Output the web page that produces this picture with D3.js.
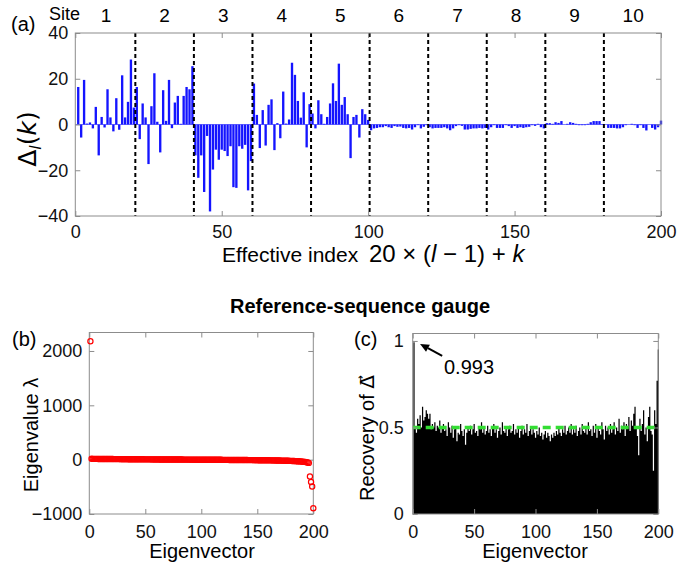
<!DOCTYPE html>
<html><head><meta charset="utf-8">
<script src="https://cdn.jsdelivr.net/npm/d3@7"></script>
<style>body{margin:0;background:#fff;} svg{display:block;}</style>
</head><body>
<svg id="chart" width="677" height="567"></svg>
<script>
// ---------------- data ----------------
const siteLabels = ["1","2","3","4","5","6","7","8","9","10"];
const xTicksIndex = [0, 50, 100, 150, 200];
const yTicksDelta = [-40, -20, 0, 20, 40];
const yTicksEigen = [-1000, 0, 1000, 2000];
const yTicksRecovery = [0, 0.5, 1];

// Delta_l(k), effective index 1..200
const deltaValues = [
  16.4, -5.7, 19.5, 0.4, 0.9, -1.7, 7.7, -13.5, 3.3, -1.3, 15.4, 3.1, -3.0, 11.5, -2.3, 21.5, 3.1, 9.9, 28.4, 7.4,
  16.4, -6.4, 9.2, 3.1, -17.3, 8.0, 22.4, 1.2, -12.2, 15.0, 1.6, 19.5, -1.6, 9.6, 12.5, 0.3, 12.5, 16.4, 15.4, 25.5,
  -13.5, -23.3, -13.5, -29.5, -5.0, -38.0, -19.7, -11.0, -15.4, -11.0, -11.6, -13.8, -9.5, -27.4, -27.7, -9.5, -10.6, -8.9, -28.8, -16.0,
  17.9, 4.2, -10.3, 6.3, -9.2, 8.6, 11.0, -11.2, 0.6, -6.0, 14.4, 0.4, 2.2, 27.0, 21.7, 10.3, 3.0, 14.1, -10.0, 8.9,
  4.8, -1.7, 10.6, 4.5, 0.3, 3.3, 9.2, 18.0, 10.3, 26.6, 8.6, 12.0, 4.5, -14.7, 3.3, 4.2, -5.7, 6.7, 4.5, 2.0,
  -2.5, -1.7, -1.5, -1.2, -1.2, -0.7, -1.2, -1.5, -0.7, -1.0, -0.9, -1.5, -1.7, -1.5, -2.2, -1.2, -0.3, -1.7, -1.0, -0.3,
  -1.2, -1.7, -1.5, -1.5, -1.5, -1.2, -1.7, -2.5, -1.7, -0.7, -0.3, -0.6, -2.2, -2.2, -1.9, -1.7, -1.7, -1.5, -1.7, -1.5,
  -2.2, -1.2, -0.3, -1.5, -1.5, -1.5, -0.3, -0.7, -1.5, -0.7, -1.5, -1.2, -1.5, -1.2, -1.0, -0.3, -0.6, 0.3, -1.2, -1.7,
  0.6, 0.6, 0.3, 1.0, 0.7, 1.5, 0.0, 0.3, 1.0, 0.7, 0.3, -0.3, -0.3, -0.3, 0.3, 1.0, 1.5, 1.5, 1.5, 0.2,
  0.0, -1.5, -1.5, -1.5, -1.7, -1.7, -1.2, -0.3, 0.0, 0.3, -0.3, -1.5, -0.3, -1.5, -2.6, 0.0, -1.5, -2.2, -1.2, 1.7
];

// Eigenvalues, eigenvector 1..200
const eigenValues = [
  2180,
  16, 15, 15, 14, 14, 14, 13, 13, 13, 13, 12, 12, 12, 12, 12, 11, 11, 11, 11, 11,
  10, 10, 10, 10, 10, 10, 9, 9, 9, 9, 9, 9, 9, 8, 8, 8, 8, 8, 8, 8,
  7, 7, 7, 7, 7, 7, 7, 6, 6, 6, 6, 6, 6, 6, 5, 5, 5, 5, 5, 5,
  5, 4, 4, 4, 4, 4, 4, 4, 3, 3, 3, 3, 3, 3, 3, 2, 2, 2, 2, 2,
  2, 2, 1, 1, 1, 1, 1, 1, 1, 0, 0, 0, 0, 0, 0, 0, -1, -1, -1, -1,
  -1, -1, -1, -2, -2, -2, -2, -2, -2, -2, -3, -3, -3, -3, -3, -3, -3, -4, -4, -4,
  -4, -4, -4, -5, -5, -5, -5, -5, -5, -6, -6, -6, -6, -6, -6, -7, -7, -7, -7, -7,
  -8, -8, -8, -8, -8, -9, -9, -9, -9, -10, -10, -10, -10, -11, -11, -11, -12, -12, -12, -13,
  -13, -13, -14, -14, -14, -15, -15, -16, -16, -17, -17, -18, -18, -19, -19, -20, -21, -22, -23, -24,
  -25, -26, -27, -28, -29, -30, -32, -34, -36, -38, -41, -44, -48, -53, -60,
  -310, -410, -495, -895
];

// Recovery of Delta, eigenvector 1..200
const recoveryValues = [
  0.993, 0.50, 0.47, 0.55, 0.52, 0.57, 0.50, 0.62, 0.54, 0.56, 0.60, 0.58, 0.55, 0.58, 0.49, 0.52, 0.50, 0.53, 0.48, 0.51,
  0.50, 0.54, 0.47, 0.50, 0.52, 0.48, 0.49, 0.45, 0.53, 0.50, 0.47, 0.51, 0.44, 0.49, 0.50, 0.42, 0.47, 0.46, 0.52, 0.48,
  0.45, 0.49, 0.40, 0.47, 0.50, 0.48, 0.51, 0.46, 0.49, 0.52, 0.47, 0.48, 0.45, 0.50, 0.49, 0.53, 0.47, 0.50, 0.46, 0.48,
  0.51, 0.47, 0.49, 0.45, 0.50, 0.52, 0.47, 0.49, 0.44, 0.48, 0.50, 0.46, 0.53, 0.48, 0.47, 0.50, 0.45, 0.49, 0.51, 0.47,
  0.48, 0.52, 0.46, 0.49, 0.47, 0.50, 0.44, 0.48, 0.51, 0.46, 0.49, 0.47, 0.52, 0.45, 0.48, 0.50, 0.46, 0.49, 0.47, 0.44,
  0.48, 0.46, 0.50, 0.45, 0.47, 0.43, 0.46, 0.48, 0.44, 0.47, 0.45, 0.42, 0.46, 0.44, 0.47, 0.45, 0.48, 0.46, 0.50, 0.47,
  0.45, 0.49, 0.47, 0.51, 0.46, 0.48, 0.50, 0.47, 0.52, 0.46, 0.49, 0.47, 0.51, 0.45, 0.48, 0.50, 0.46, 0.52, 0.48, 0.47,
  0.50, 0.46, 0.53, 0.48, 0.49, 0.45, 0.51, 0.47, 0.52, 0.44, 0.50, 0.48, 0.46, 0.53, 0.49, 0.43, 0.51, 0.48, 0.50, 0.46,
  0.52, 0.47, 0.49, 0.53, 0.46, 0.50, 0.48, 0.55, 0.47, 0.51, 0.49, 0.53, 0.45, 0.52, 0.50, 0.56, 0.48, 0.54, 0.51, 0.58,
  0.62, 0.50, 0.45, 0.34, 0.55, 0.48, 0.52, 0.60, 0.46, 0.50, 0.42, 0.56, 0.62, 0.48, 0.46, 0.25, 0.60, 0.52, 0.77, 0.95
];
const recoveryThreshold = 0.5;
const peakLabel = "0.993";

// ---------------- drawing ----------------
const svg = d3.select("#chart");
const FONT = "'Liberation Sans', Arial, Helvetica, sans-serif";
const BOX = "#8c8c8c";

function drawAxes(g, x, y, xt, yt, yfmt, xPad, yPad, fs) {
  const [x0, x1] = x.range();
  const [yb, yt0] = y.range();
  const style = sel => {
    sel.select(".domain").remove();
    sel.selectAll(".tick line").attr("stroke", BOX).attr("stroke-width", 1);
    sel.selectAll(".tick text").attr("fill", "#111").attr("font-family", FONT).attr("font-size", fs);
    sel.attr("font-family", FONT);
  };
  g.append("g").attr("transform", `translate(0,${yb})`)
    .call(d3.axisBottom(x).tickValues(xt).tickSizeInner(-5).tickSizeOuter(0).tickPadding(xPad)).call(style);
  g.append("g").attr("transform", `translate(0,${yt0})`)
    .call(d3.axisTop(x).tickValues(xt).tickSizeInner(-5).tickSizeOuter(0).tickFormat("")).call(style);
  g.append("g").attr("transform", `translate(${x0},0)`)
    .call(d3.axisLeft(y).tickValues(yt).tickSizeInner(-5).tickSizeOuter(0).tickPadding(yPad).tickFormat(yfmt)).call(style);
  g.append("g").attr("transform", `translate(${x1},0)`)
    .call(d3.axisRight(y).tickValues(yt).tickSizeInner(-5).tickSizeOuter(0).tickFormat("")).call(style);
  g.append("rect").attr("x", x0).attr("y", yt0).attr("width", x1 - x0).attr("height", yb - yt0)
    .attr("fill", "none").attr("stroke", BOX).attr("stroke-width", 1);
}

// ----- panel (a) -----
const gA = svg.append("g");
const xA = d3.scaleLinear().domain([0, 200]).range([75.3, 661]);
const yA = d3.scaleLinear().domain([-40, 40]).range([216, 33]);
const bwA = xA(0.8) - xA(0);

gA.append("line").attr("x1", xA(0)).attr("x2", xA(200)).attr("y1", yA(0)).attr("y2", yA(0))
  .attr("stroke", "#8080ff").attr("stroke-width", 1);
gA.selectAll("rect.bar").data(deltaValues).join("rect").attr("class", "bar")
  .attr("x", (d, i) => xA(i + 1) - bwA / 2)
  .attr("width", bwA)
  .attr("y", d => Math.min(yA(d), yA(0)))
  .attr("height", d => Math.abs(yA(d) - yA(0)))
  .attr("fill", "#1414ff");

// site separators
const separators = d3.range(1, siteLabels.length).map(k => 20 * k + 0.5);
gA.selectAll("line.sep").data(separators).join("line").attr("class", "sep")
  .attr("x1", d => xA(d)).attr("x2", d => xA(d)).attr("y1", yA(40)).attr("y2", yA(-40))
  .attr("stroke", "#000").attr("stroke-width", 2).attr("stroke-dasharray", "4,3");

drawAxes(gA, xA, yA, xTicksIndex, yTicksDelta, d3.format("d"), 9, 7, "18px");

gA.selectAll("text.site").data(siteLabels).join("text").attr("class", "site")
  .attr("x", (d, i) => xA(20 * i + 10.5)).attr("y", 22)
  .attr("text-anchor", "middle").attr("font-family", FONT).attr("font-size", "19px").attr("fill", "#000")
  .text(d => d);
gA.append("text").attr("x", 80).attr("y", 20).attr("text-anchor", "end")
  .attr("font-family", FONT).attr("font-size", "18px").text("Site");
gA.append("text").attr("x", 11).attr("y", 31).attr("font-family", FONT).attr("font-size", "20px").text("(a)");

// y label Δ_l(k)
const ylA = gA.append("text").attr("transform", "translate(36,139) rotate(-90)")
  .attr("text-anchor", "middle").attr("font-family", "'DejaVu Sans', sans-serif").attr("font-size", "25px")
  .attr("fill", "#000");
ylA.append("tspan").text("Δ");
ylA.append("tspan").attr("font-style", "italic").attr("font-size", "16px").attr("dy", 5).text("l");
ylA.append("tspan").attr("dy", -5).text("(");
ylA.append("tspan").attr("font-style", "italic").text("k");
ylA.append("tspan").text(")");

// x label
gA.append("text").attr("x", 222).attr("y", 262).attr("font-family", FONT).attr("font-size", "21px")
  .text("Effective index");
const xlA = gA.append("text").attr("x", 369).attr("y", 262).attr("font-family", FONT).attr("font-size", "24px");
xlA.append("tspan").text("20 × (");
xlA.append("tspan").attr("font-style", "italic").text("l");
xlA.append("tspan").text(" − 1) + ");
xlA.append("tspan").attr("font-style", "italic").text("k");

// title
svg.append("text").attr("x", 360).attr("y", 313).attr("text-anchor", "middle")
  .attr("font-family", FONT).attr("font-size", "20px").attr("font-weight", "bold")
  .text("Reference-sequence gauge");

// ----- panel (b) -----
const gB = svg.append("g");
const xB = d3.scaleLinear().domain([0, 200]).range([89.3, 313.3]);
const yB = d3.scaleLinear().domain([-1000, 2340]).range([514, 332.5]);
drawAxes(gB, xB, yB, xTicksIndex, yTicksEigen, d3.format("d"), 11, 7, "18px");
gB.selectAll("circle.eig").data(eigenValues).join("circle").attr("class", "eig")
  .attr("cx", (d, i) => xB(i + 1)).attr("cy", d => yB(d)).attr("r", 2.6)
  .attr("fill", "none").attr("stroke", "#ff0000").attr("stroke-width", 1.2);
gB.append("text").attr("x", 12).attr("y", 346).attr("font-family", FONT).attr("font-size", "20px").text("(b)");
gB.append("text").attr("transform", "translate(38,435) rotate(-90)").attr("text-anchor", "middle")
  .attr("font-family", FONT).attr("font-size", "20px").text("Eigenvalue λ");
gB.append("text").attr("x", 202).attr("y", 558).attr("text-anchor", "middle")
  .attr("font-family", FONT).attr("font-size", "20px").text("Eigenvector");

// ----- panel (c) -----
const gC = svg.append("g");
const xC = d3.scaleLinear().domain([0, 200]).range([412.7, 658.3]);
const yC = d3.scaleLinear().domain([0, 1.043]).range([514, 333.5]);
// bars drawn as one stepped area so adjacent bars merge into a solid black mass
const recSteps = recoveryValues.map((v, i) => ({ x: i + 0.55, v }));
recSteps.push({ x: recoveryValues.length + 0.45, v: recoveryValues[recoveryValues.length - 1] });
const recArea = d3.area().curve(d3.curveStepAfter)
  .x(d => xC(d.x)).y0(yC(0)).y1(d => yC(d.v));
gC.append("path").datum(recSteps).attr("d", recArea).attr("fill", "#000");
gC.append("line").attr("x1", xC(0)).attr("x2", xC(200)).attr("y1", yC(recoveryThreshold)).attr("y2", yC(recoveryThreshold))
  .attr("stroke", "#33dd33").attr("stroke-width", 3.5).attr("stroke-dasharray", "8,5");
drawAxes(gC, xC, yC, xTicksIndex, yTicksRecovery, d3.format("~g"), 11, 9, "18px");

// arrow annotation
const ax0 = xC(24), ay0 = yC(0.913), ax1 = xC(6), ay1 = yC(0.983);
const ang = Math.atan2(ay1 - ay0, ax1 - ax0);
const hl = 9, hw = 4;
const bx = ax1 - hl * Math.cos(ang), by = ay1 - hl * Math.sin(ang);
gC.append("line").attr("x1", ax0).attr("y1", ay0).attr("x2", bx).attr("y2", by)
  .attr("stroke", "#000").attr("stroke-width", 2);
gC.append("path").attr("d",
  `M${ax1},${ay1}L${bx + hw * Math.sin(ang)},${by - hw * Math.cos(ang)}L${bx - hw * Math.sin(ang)},${by + hw * Math.cos(ang)}Z`)
  .attr("fill", "#000");
gC.append("text").attr("x", xC(25.5)).attr("y", yC(0.809)).attr("font-family", FONT).attr("font-size", "20px")
  .text(peakLabel);

gC.append("text").attr("x", 354).attr("y", 346).attr("font-family", FONT).attr("font-size", "20px").text("(c)");
const ylC = gC.append("text").attr("transform", "translate(374,438) rotate(-90)").attr("text-anchor", "middle")
  .attr("font-family", FONT).attr("font-size", "20px");
ylC.append("tspan").text("Recovery of ");
ylC.append("tspan").attr("font-family", "'DejaVu Sans', sans-serif").text("Δ\u20D7");
gC.append("text").attr("x", 535).attr("y", 558).attr("text-anchor", "middle")
  .attr("font-family", FONT).attr("font-size", "20px").text("Eigenvector");
</script>
</body></html>
